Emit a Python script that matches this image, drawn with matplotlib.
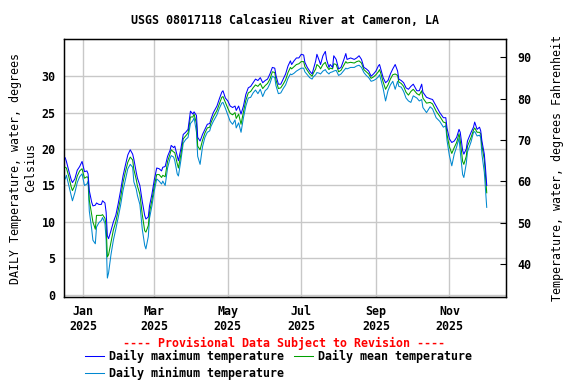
import numpy as np
import pandas as pd
import matplotlib
matplotlib.use('Agg')
import matplotlib.pyplot as plt
import matplotlib.dates as mdates

# day offsets from 2025-01-01
days = [-15, -14, -12, -10, -9, -7, -5, -3, -1, 1,
        3, 4, 5, 7, 8, 10, 11, 13, 15, 16,
        18, 19, 20, 21, 23, 25, 27, 29, 31, 33,
        35, 37, 39, 41, 42, 44, 45, 47, 49, 51,
        52, 54, 55, 57, 59, 61, 63, 65, 66, 68,
        70, 72, 73, 75, 76, 78, 79, 81, 83, 85,
        87, 89, 91, 92, 94, 95, 97, 99, 101, 103,
        105, 106, 108, 111, 113, 115, 116, 118, 120, 122,
        124, 126, 127, 129, 131, 133, 135, 137, 139, 141,
        143, 145, 147, 149, 151, 153, 155, 157, 159, 160,
        162, 164, 166, 168, 170, 172, 173, 175, 177, 179,
        181, 183, 184, 186, 188, 190, 191, 193, 194, 196,
        197, 199, 201, 202, 204, 205, 207, 208, 210, 212,
        214, 216, 218, 219, 222, 225, 227, 229, 231, 233,
        235, 237, 239, 241, 243, 245, 246, 247, 249, 251,
        253, 255, 257, 259, 261, 262, 264, 266, 268, 270,
        272, 274, 277, 279, 281, 282, 285, 288, 290, 293,
        296, 299, 301, 302, 304, 306, 308, 310, 312, 313,
        315, 316, 318, 319, 322, 324, 325, 327, 329, 330,
        331, 333, 334, 335]

t_max = [18.8, 18.3, 17.0, 15.8, 15.4, 15.9, 17.1, 17.6, 18.3, 16.9,
         17.0, 16.6, 14.3, 12.7, 12.2, 12.3, 12.6, 12.4, 12.4, 12.9,
         12.6, 11.3, 8.1, 7.7, 8.8, 10.0, 10.9, 12.5, 14.3, 16.3,
         17.8, 19.2, 19.9, 19.3, 18.6, 16.8, 16.0, 15.0, 12.8, 10.9,
         10.4, 10.7, 12.2, 13.8, 15.8, 17.4, 17.3, 17.0, 17.5, 17.6,
         19.0, 19.8, 20.5, 20.2, 20.4, 19.1, 18.4, 20.0, 22.0, 22.3,
         22.7, 25.2, 24.8, 25.1, 24.6, 21.6, 21.1, 22.0, 22.7, 23.4,
         23.5, 24.1, 25.0, 25.9, 26.9, 27.8, 28.0, 27.0, 26.6, 25.9,
         25.7, 25.9, 25.3, 25.9, 24.8, 25.9, 27.5, 28.4, 28.6, 29.1,
         29.6, 29.4, 29.8, 29.1, 29.4, 29.6, 30.3, 31.2, 31.1, 30.1,
         28.9, 28.9, 29.6, 30.3, 31.4, 32.1, 31.6, 32.1, 32.5, 32.5,
         33.0, 32.9, 31.9, 31.2, 30.7, 30.3, 30.9, 32.1, 33.0, 32.1,
         31.6, 32.8, 33.4, 32.3, 31.2, 31.6, 31.2, 32.8, 32.3, 31.0,
         31.2, 32.1, 33.1, 32.3, 32.5, 32.3, 32.5, 32.8, 32.3, 31.2,
         31.0, 30.7, 30.0, 30.3, 30.7, 31.4, 31.6, 31.0, 29.8, 29.1,
         29.4, 30.3, 31.0, 31.6, 30.7, 29.6, 29.4, 29.1, 28.4, 28.2,
         28.6, 28.9, 28.0, 28.0, 28.9, 27.8, 27.1, 26.9, 26.8, 25.9,
         25.0, 24.3, 24.3, 22.9, 21.4, 20.9, 21.1, 21.6, 22.7, 22.3,
         19.8, 19.3, 20.0, 21.1, 22.3, 23.0, 23.7, 22.7, 23.0, 22.5,
         21.1, 19.3, 17.3, 15.0]

t_mean = [17.5, 17.4, 16.2, 14.8, 14.3, 15.0, 16.3, 17.0, 17.3, 16.0,
          16.2, 16.1, 13.0, 11.0, 10.0, 9.0, 10.9, 10.9, 10.9, 11.0,
          10.5, 9.5, 5.2, 5.5, 7.2, 8.9, 10.0, 11.6, 13.3, 15.4,
          16.9, 18.2, 18.9, 18.5, 17.2, 15.8, 14.9, 13.8, 11.0, 8.8,
          8.6, 9.5, 11.3, 13.0, 15.0, 16.5, 16.5, 16.1, 16.4, 16.2,
          18.3, 19.3, 19.9, 19.6, 19.5, 18.0, 17.4, 19.2, 21.4, 21.8,
          22.2, 24.4, 24.4, 24.8, 23.5, 20.4, 19.9, 21.2, 22.2, 22.9,
          23.0, 23.6, 24.4, 25.3, 26.2, 27.1, 27.2, 26.4, 25.6, 24.9,
          24.7, 25.0, 24.2, 24.8, 23.4, 25.1, 26.7, 27.7, 27.9, 28.4,
          28.8, 28.6, 29.0, 28.3, 28.7, 29.0, 29.6, 30.6, 30.5, 29.5,
          28.3, 28.4, 28.9, 29.5, 30.5, 31.2, 31.0, 31.3, 31.6, 31.7,
          32.0, 32.0, 31.3, 30.8, 30.3, 30.0, 30.4, 31.0, 31.6, 31.3,
          31.0, 31.6, 31.9, 31.4, 30.9, 31.1, 31.0, 31.7, 31.6, 30.6,
          30.8, 31.4, 32.0, 31.8, 31.9, 31.8, 32.0, 32.1, 31.8, 30.9,
          30.6, 30.3, 29.7, 29.9, 30.2, 30.6, 30.9, 30.4, 29.2, 28.2,
          28.8, 29.6, 30.2, 30.3, 30.1, 29.2, 29.0, 28.6, 27.8, 27.4,
          27.9, 28.2, 27.6, 27.4, 28.0, 27.0, 26.3, 26.4, 26.2, 25.2,
          24.5, 23.7, 23.6, 22.0, 20.3, 19.4, 20.2, 20.9, 22.1, 21.2,
          18.3, 17.9, 19.0, 20.4, 21.6, 22.6, 22.9, 22.3, 22.3, 22.1,
          20.5, 18.5, 16.2, 14.0]

t_min = [15.9, 16.4, 15.0, 13.6, 12.9, 14.0, 15.4, 16.2, 16.6, 15.0,
         15.2, 15.6, 11.5, 9.0, 7.5, 7.0, 9.3, 9.9, 10.2, 10.6,
         9.8, 7.5, 2.3, 3.0, 5.5, 7.5, 9.0, 10.6, 12.3, 14.3,
         15.8, 17.3, 17.9, 17.5, 15.5, 14.5, 13.6, 12.4, 9.0, 6.8,
         6.3, 8.0, 10.5, 12.2, 14.3, 15.9, 15.6, 15.2, 15.6, 15.0,
         17.4, 18.7, 19.1, 18.9, 18.4, 16.6, 16.3, 18.4, 20.8, 21.3,
         21.6, 23.5, 23.9, 24.3, 22.3, 19.0, 17.9, 20.3, 21.6, 22.3,
         22.5, 23.1, 23.8, 24.7, 25.6, 26.3, 26.4, 25.6, 24.7, 23.8,
         23.4, 24.0, 22.9, 23.6, 22.3, 24.3, 25.9, 27.0, 27.1, 27.7,
         28.1, 27.6, 28.2, 27.2, 28.0, 28.3, 29.0, 30.0, 29.8, 28.7,
         27.6, 27.7, 28.3, 28.8, 29.7, 30.3, 30.2, 30.4, 30.7, 30.9,
         31.1, 31.1, 30.6, 30.2, 29.8, 29.6, 29.9, 30.2, 30.5, 30.4,
         30.3, 30.7, 30.9, 30.6, 30.3, 30.5, 30.6, 30.7, 30.8, 30.1,
         30.3, 30.7, 31.1, 31.0, 31.2, 31.2, 31.4, 31.5, 31.2, 30.5,
         30.1, 29.8, 29.3, 29.4, 29.6, 29.9, 30.2, 29.6, 28.3, 26.6,
         28.0, 28.8, 29.3, 28.2, 29.3, 28.6, 28.5, 27.9, 27.0, 26.6,
         26.4, 27.3, 27.0, 26.6, 26.8, 25.7, 25.0, 25.8, 25.5, 24.3,
         23.8, 23.0, 23.2, 21.2, 19.1, 17.7, 19.3, 20.3, 21.5, 19.7,
         16.5, 16.1, 18.0, 19.6, 21.0, 22.3, 22.4, 21.8, 21.9, 21.6,
         19.3, 16.8, 14.5, 12.0]

month_ticks = ['2025-01-01', '2025-03-01', '2025-05-01',
               '2025-07-01', '2025-09-01', '2025-11-01']
celsius_ticks = [0, 5, 10, 15, 20, 25, 30]
fahrenheit_ticks = [40, 50, 60, 70, 80, 90]


def main():
    plt.rcParams['font.family'] = 'DejaVu Sans Mono'
    plt.rcParams['font.weight'] = 'bold'
    plt.rcParams['font.size'] = 8.4

    dates = pd.Timestamp('2025-01-01') + pd.to_timedelta(days, unit='D')

    fig = plt.figure(figsize=(5.76, 3.84), dpi=100)
    ax = fig.add_axes([64 / 576, 1 - 297 / 384, 442 / 576, 258 / 384])

    l_max, = ax.plot(dates, t_max, color='#0000ff', lw=0.75, label='Daily maximum temperature', zorder=4)
    l_mean, = ax.plot(dates, t_mean, color='#00a000', lw=0.75, label='Daily mean temperature', zorder=3)
    l_min, = ax.plot(dates, t_min, color='#0088d0', lw=0.75, label='Daily minimum temperature', zorder=2)

    ax.set_xlim(pd.Timestamp('2024-12-16'), pd.Timestamp('2025-12-18'))
    ax.set_ylim(-0.3, 35.1)
    ax.set_xticks(pd.to_datetime(month_ticks))
    ax.xaxis.set_major_formatter(mdates.DateFormatter('%b\n%Y'))
    ax.set_yticks(celsius_ticks)
    ax.tick_params(axis='x', length=0, pad=6)
    ax.tick_params(axis='y', length=0, pad=6)
    ax.grid(True, color='#c8c8c8', lw=1.0)
    ax.set_axisbelow(True)
    for s in ax.spines.values():
        s.set_linewidth(1.0)
    ax.set_ylabel('DAILY Temperature, water, degrees\nCelsius', labelpad=3)

    ax2 = ax.twinx()
    ax2.set_ylim(32.05, 94.4)
    ax2.set_yticks(fahrenheit_ticks)
    ax2.tick_params(axis='y', direction='in', length=4, pad=8)
    ax2.set_ylabel('Temperature, water, degrees Fahrenheit', labelpad=14)

    fig.text(285 / 576, 1 - 20 / 384, 'USGS 08017118 Calcasieu River at Cameron, LA',
             ha='center', va='center')
    fig.text(284 / 576, 1 - 343 / 384, '---- Provisional Data Subject to Revision ----',
             ha='center', va='center', color='red')

    fig.legend([l_max, l_min, l_mean],
               [l_max.get_label(), l_min.get_label(), l_mean.get_label()],
               ncol=2, loc='upper left', bbox_to_anchor=(85 / 576, 1 - 350 / 384),
               frameon=False, borderpad=0, borderaxespad=0, handlelength=1.6,
               handletextpad=0.45, columnspacing=0.9, labelspacing=0.3)

    fig.savefig('out.png', dpi=100)


if __name__ == '__main__':
    main()
